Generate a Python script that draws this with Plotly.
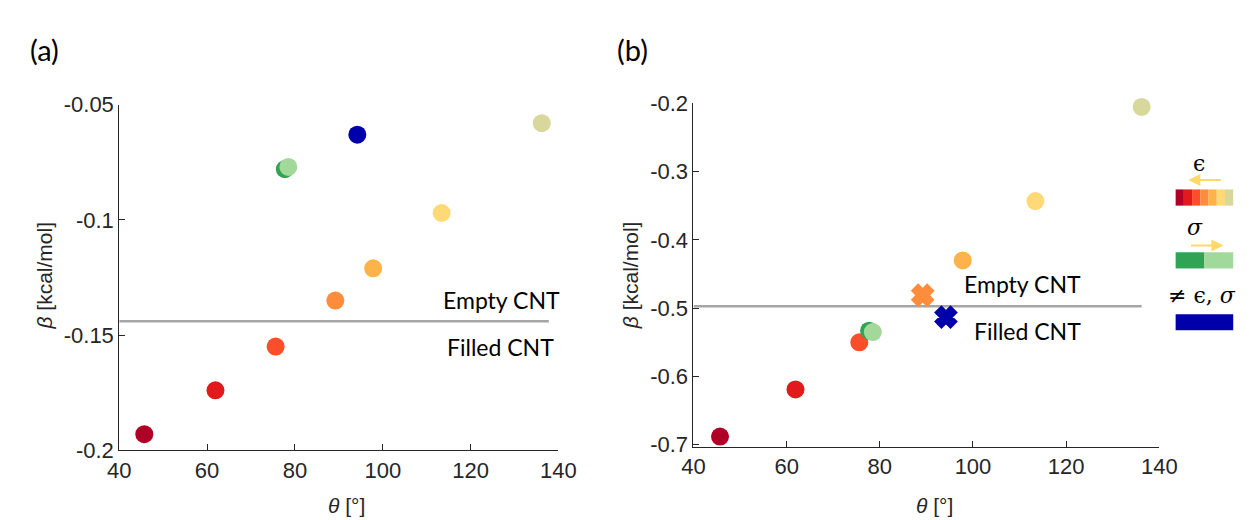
import plotly.graph_objects as go

# ---------------- data ----------------
materials = ["m1", "m2", "m3", "m4", "m5", "m6", "m7", "g1", "g2", "mix"]
colors = ["#B10026", "#E31A1C", "#FC4E2A", "#FD8D3C", "#FEB24C", "#FED976",
          "#D9D89C", "#31A354", "#A1D99B", "#0000AA"]
theta = [45.7, 61.9, 75.6, 89.2, 97.8, 113.4, 136.2, 77.7, 78.5, 94.2]
beta_a = [-0.193, -0.174, -0.155, -0.135, -0.121, -0.097, -0.058, -0.078, -0.077, -0.063]
beta_b = [-0.688, -0.619, -0.550, -0.481, -0.430, -0.343, -0.205, -0.533, -0.535, -0.513]
symbols_b = ["circle", "circle", "circle", "x", "circle", "circle", "circle", "circle", "circle", "x"]
line_a = -0.144
line_b = -0.497
line_x_a = [40, 137.8]
line_x_b = [40, 136.2]
xticks = [40, 60, 80, 100, 120, 140]
yticks_a = [-0.2, -0.15, -0.1, -0.05]
yticks_b = [-0.7, -0.6, -0.5, -0.4, -0.3, -0.2]
eps_colors = ["#B10026", "#E31A1C", "#FC4E2A", "#FD8D3C", "#FEB24C", "#FED976", "#D9D89C"]
sig_colors = ["#31A354", "#A1D99B"]
mix_color = "#0000AA"

W, H = 1252, 520
fig = go.Figure()


def px(x):
    return x / W


def py(y):
    return 1 - y / H


# reference line (empty / filled boundary)
fig.add_trace(go.Scatter(x=line_x_a, y=[line_a, line_a], mode="lines",
                         line=dict(color="#A6A6A6", width=2.5), xaxis="x", yaxis="y",
                         showlegend=False, hoverinfo="skip"))
fig.add_trace(go.Scatter(x=line_x_b, y=[line_b, line_b], mode="lines",
                         line=dict(color="#A6A6A6", width=2.5), xaxis="x2", yaxis="y2",
                         showlegend=False, hoverinfo="skip"))

for i in range(len(theta)):
    fig.add_trace(go.Scatter(x=[theta[i]], y=[beta_a[i]], mode="markers",
                             marker=dict(color=colors[i], size=18, symbol="circle",
                                         line=dict(width=0)),
                             xaxis="x", yaxis="y", showlegend=False, cliponaxis=False,
                             name=materials[i]))
    if symbols_b[i] == "x":
        mk = dict(color=colors[i], size=16, symbol="x", line=dict(width=4, color=colors[i]))
    else:
        mk = dict(color=colors[i], size=18, symbol="circle", line=dict(width=0))
    fig.add_trace(go.Scatter(x=[theta[i]], y=[beta_b[i]], mode="markers", marker=mk,
                             xaxis="x2", yaxis="y2", showlegend=False, cliponaxis=False,
                             name=materials[i]))

axis_common = dict(showgrid=False, zeroline=False, showline=True, linecolor="#262626",
                   linewidth=1, ticks="inside", ticklen=6, tickcolor="#262626",
                   tickfont=dict(family="Liberation Sans", size=22, color="#262626"),
                   mirror=False)

fig.update_layout(
    width=W, height=H, margin=dict(l=0, r=0, t=0, b=0),
    plot_bgcolor="white", paper_bgcolor="white",
    xaxis=dict(domain=[px(101.7), px(551.7)], range=[40, 140], tickvals=xticks,
               anchor="y", **axis_common),
    yaxis=dict(domain=[py(452), py(89)], range=[-0.2, -0.05], tickvals=yticks_a,
               ticktext=[str(v) for v in yticks_a], anchor="x", **axis_common),
    xaxis2=dict(domain=[px(690), px(1167.3)], range=[40, 140], tickvals=xticks,
                anchor="y2", **axis_common),
    yaxis2=dict(domain=[py(448.3), py(87.7)], range=[-0.703, -0.2], tickvals=yticks_b,
                ticktext=[str(v) for v in yticks_b], anchor="x2", **axis_common),
)

ann = []
lbl_font = dict(family="Liberation Sans", size=21, color="#262626")
cnt_font = dict(family="Lato", size=23, color="#000000")
# panel labels
ann.append(dict(text="(a)", x=px(8), y=py(31), xref="paper", yref="paper", xanchor="left",
                yanchor="middle", showarrow=False, font=dict(family="Lato", size=29, color="#000")))
ann.append(dict(text="(b)", x=px(610), y=py(31), xref="paper", yref="paper", xanchor="left",
                yanchor="middle", showarrow=False, font=dict(family="Lato", size=29, color="#000")))
# axis titles
for xc in (25, 625):
    ann.append(dict(text="<i>β</i> [kcal/mol]", x=px(xc), y=py(268), xref="paper", yref="paper",
                    textangle=-90, showarrow=False, xanchor="center", yanchor="middle",
                    font=lbl_font))
for xc in (335, 937):
    ann.append(dict(text="<i>θ</i> [°]", x=px(xc), y=py(510), xref="paper", yref="paper",
                    showarrow=False, xanchor="center", yanchor="middle", font=lbl_font))
# Empty / Filled CNT
ann.append(dict(text="Empty CNT", x=px(493), y=py(294), xref="paper", yref="paper",
                showarrow=False, font=cnt_font))
ann.append(dict(text="Filled CNT", x=px(492), y=py(343), xref="paper", yref="paper",
                showarrow=False, font=cnt_font))
ann.append(dict(text="Empty CNT", x=px(1089), y=py(277), xref="paper", yref="paper",
                showarrow=False, font=cnt_font))
ann.append(dict(text="Filled CNT", x=px(1089), y=py(327), xref="paper", yref="paper",
                showarrow=False, font=cnt_font))

# color key
leg_font = dict(family="DejaVu Serif", size=22, color="#000")
ann.append(dict(text="ϵ", x=px(1216), y=py(136), xref="paper", yref="paper",
                showarrow=False, font=leg_font))
ann.append(dict(text="<i>σ</i>", x=px(1214), y=py(218), xref="paper", yref="paper",
                showarrow=False, font=leg_font))
ann.append(dict(text="≠ ϵ, <i>σ</i>", x=px(1248), y=py(289), xref="paper", yref="paper",
                xanchor="right", showarrow=False, font=leg_font))
# arrows
ann.append(dict(x=px(1197), y=py(168), ax=34, ay=0, xref="paper", yref="paper",
                axref="pixel", ayref="pixel", text="", showarrow=True, arrowhead=2,
                arrowsize=1.2, arrowwidth=2, arrowcolor="#FFD966"))
ann.append(dict(x=px(1233), y=py(237), ax=-34, ay=0, xref="paper", yref="paper",
                axref="pixel", ayref="pixel", text="", showarrow=True, arrowhead=2,
                arrowsize=1.2, arrowwidth=2, arrowcolor="#FFD966"))

shapes = []
x0, x1 = 1184, 1243
n = len(eps_colors)
for i, c in enumerate(eps_colors):
    a = x0 + (x1 - x0) * i / n
    b = x0 + (x1 - x0) * (i + 1) / n
    shapes.append(dict(type="rect", xref="paper", yref="paper", x0=px(a), x1=px(b),
                       y0=py(195), y1=py(178), fillcolor=c, line=dict(width=0)))
for i, c in enumerate(sig_colors):
    a = x0 + (x1 - x0) * i / 2
    b = x0 + (x1 - x0) * (i + 1) / 2
    shapes.append(dict(type="rect", xref="paper", yref="paper", x0=px(a), x1=px(b),
                       y0=py(261), y1=py(244), fillcolor=c, line=dict(width=0)))
shapes.append(dict(type="rect", xref="paper", yref="paper", x0=px(x0), x1=px(x1),
                   y0=py(326), y1=py(309), fillcolor=mix_color, line=dict(width=0)))

fig.update_layout(annotations=ann, shapes=shapes)
fig.write_html("out.html")
